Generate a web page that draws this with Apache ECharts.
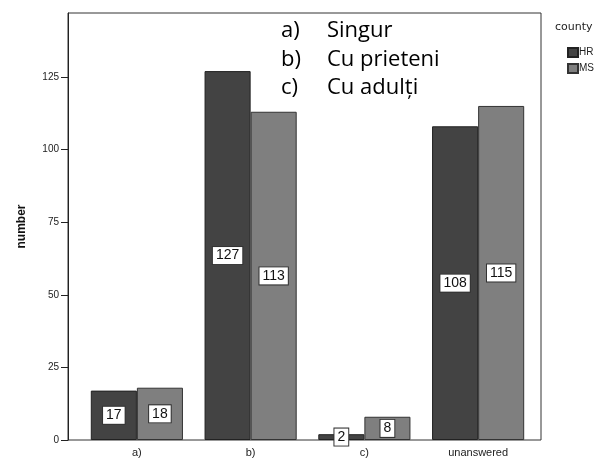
<!DOCTYPE html>
<html><head><meta charset="utf-8">
<script src="https://cdn.jsdelivr.net/npm/echarts@6/dist/echarts.min.js"></script>
<style>html,body{margin:0;padding:0;background:#fff}#c{width:604px;height:458px}</style>
</head><body><div id="c"></div>
<script>
const categories = ['a)', 'b)', 'c)', 'unanswered'];
const hrValues = [17, 127, 2, 108];
const msValues = [18, 113, 8, 115];
const yTicks = [0, 25, 50, 75, 100, 125];
const notes = [['a)', 'Singur'], ['b)', 'Cu prieteni'], ['c)', 'Cu adulți']];

const chart = echarts.init(document.getElementById('c'));
const lbl = {
  show: true, position: 'inside', color: '#111', fontFamily: 'Liberation Sans, Arial', fontSize: 14,
  backgroundColor: '#fff', borderColor: '#333', borderWidth: 1, padding: [2, 3, 1, 3]
};
const graphics = [];
notes.forEach((n, i) => {
  graphics.push({type: 'text', left: 281, top: 20 + i * 28.5, style: {text: n[0], font: '22px "Open Sans", "Noto Sans"', fill: '#000'}});
  graphics.push({type: 'text', left: 327, top: 20 + i * 28.5, style: {text: n[1], font: '22px "Open Sans", "Noto Sans"', fill: '#000'}});
});
graphics.push({type: 'text', left: 555, top: 22, style: {text: 'county', font: '11px "DejaVu Sans"', fill: '#222'}});
chart.setOption({
  animation: false,
  grid: [
    {left: 68, right: 63, top: 13, bottom: 18, show: true, borderColor: '#333', borderWidth: 1},
    {left: 80, right: 69, top: 13, bottom: 18}
  ],
  xAxis: [
    {gridIndex: 0, type: 'value', min: 0, max: 1, show: false},
    {gridIndex: 1, type: 'category', data: categories,
     axisLine: {show: false}, axisTick: {alignWithLabel: true, length: 5, lineStyle: {color: '#222'}},
     axisLabel: {color: '#222', fontFamily: 'Liberation Sans, Arial', fontSize: 11, margin: 7}}
  ],
  yAxis: [
    {gridIndex: 0, type: 'value', min: 0, max: 147, interval: 25,
     axisLine: {show: true, lineStyle: {color: '#222'}},
     axisTick: {show: true, length: 7, customValues: yTicks, lineStyle: {color: '#222'}},
     splitLine: {show: false},
     axisLabel: {color: '#222', fontFamily: 'Liberation Sans, Arial', fontSize: 10, margin: 9, customValues: yTicks},
     name: 'number', nameLocation: 'middle', nameGap: 40, nameRotate: 90,
     nameTextStyle: {fontWeight: 'bold', fontSize: 12, color: '#111', fontFamily: 'Liberation Sans, Arial'}},
    {gridIndex: 1, type: 'value', min: 0, max: 147, interval: 25, show: false, splitLine: {show: false}}
  ],
  legend: {
    orient: 'vertical', left: 562, top: 42, itemWidth: 10, itemHeight: 9, itemGap: 5, icon: 'rect',
    textStyle: {fontSize: 10, color: '#222', fontFamily: 'Liberation Sans, Arial', padding: [0, 0, 0, -4]},
    data: ['HR', 'MS']
  },
  graphic: graphics,
  series: [
    {name: 'HR', type: 'bar', xAxisIndex: 1, yAxisIndex: 1, data: hrValues, barGap: '0%', barCategoryGap: '19%',
     itemStyle: {color: '#434343', borderColor: '#222', borderWidth: 1}, label: lbl},
    {name: 'MS', type: 'bar', xAxisIndex: 1, yAxisIndex: 1, data: msValues, barGap: '0%', barCategoryGap: '19%',
     itemStyle: {color: '#7f7f7f', borderColor: '#333', borderWidth: 1}, label: lbl}
  ]
});
</script></body></html>
